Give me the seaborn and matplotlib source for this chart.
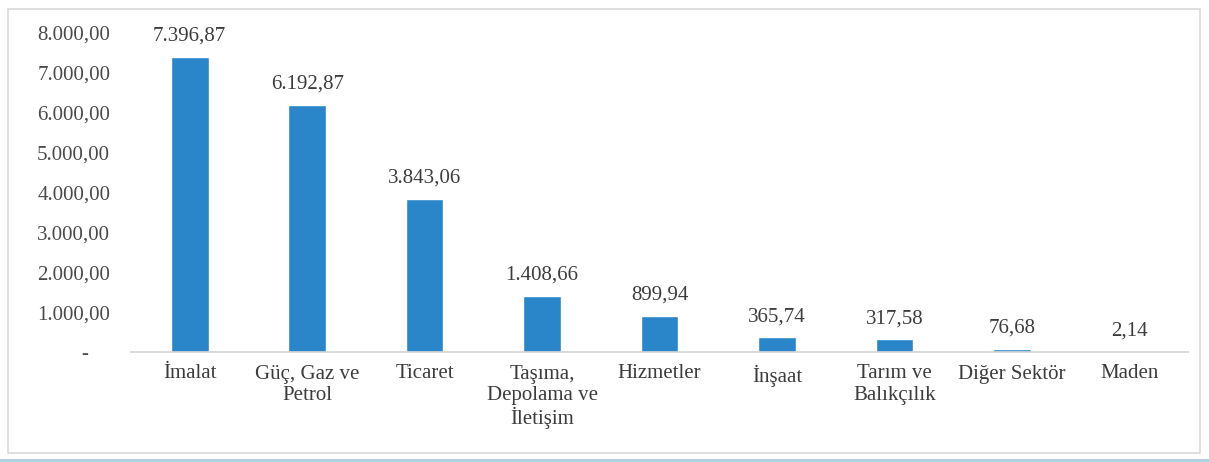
import numpy as np
import pandas as pd
import seaborn as sns
import matplotlib.pyplot as plt
from matplotlib.patches import Rectangle
from matplotlib.lines import Line2D

# Sector data
sectors = ["İmalat", "Güç, Gaz ve\nPetrol", "Ticaret", "Taşıma,\nDepolama ve\nİletişim",
           "Hizmetler", "İnşaat", "Tarım ve\nBalıkçılık", "Diğer Sektör", "Maden"]
values = [7396.87, 6192.87, 3843.06, 1408.66, 899.94, 365.74, 317.58, 76.68, 2.14]
yticks = [0, 1000, 2000, 3000, 4000, 5000, 6000, 7000, 8000]


def tr_fmt(v):
    # Turkish number format: 7.396,87
    s = f"{v:,.2f}"
    return s.replace(",", "X").replace(".", ",").replace("X", ".")


df = pd.DataFrame({"sector": sectors, "value": values})

sns.set_style("white")
plt.rcParams['font.family'] = ['Liberation Serif', 'DejaVu Serif']

fig = plt.figure(figsize=(12.09, 4.62), dpi=100)
ax = fig.add_axes([131 / 1209, 1 - 352 / 462, 1057 / 1209, 319 / 462])

sns.barplot(data=df, x="sector", y="value", color="#2a86c9", width=0.32,
            saturation=1, ax=ax)

txt = "#3c3c3c"
for i, v in enumerate(values):
    ax.annotate(tr_fmt(v), (i, v), xytext=(0, 8), textcoords="offset points",
                ha="center", va="bottom", fontsize=15, color=txt)

ax.set_ylim(0, 8000)
ax.set_xlim(-0.5, len(sectors) - 0.5)
ax.set_yticks(yticks)
ax.set_yticklabels(["-    "] + [tr_fmt(t) for t in yticks[1:]], fontsize=15, color="#4a4a4a")
ax.tick_params(axis="y", length=0, pad=15)
ax.tick_params(axis="x", length=0, pad=9, labelsize=15, labelcolor=txt)
for lab in ax.get_xticklabels():
    lab.set_linespacing(1.15)
ax.set_xlabel("")
ax.set_ylabel("")

for s in ["top", "right", "left"]:
    ax.spines[s].set_visible(False)
ax.spines["bottom"].set_color("#d4d4d4")
ax.spines["bottom"].set_linewidth(1.2)

# chart frame
fig.patches.append(Rectangle((8 / 1209, 9 / 462), 1192 / 1209, 444 / 462,
                             transform=fig.transFigure, fill=False,
                             edgecolor="#d9d9d9", linewidth=1.2))
# light blue page line under the frame
fig.lines.append(Line2D([0, 1], [2 / 462, 2 / 462], transform=fig.transFigure,
                        color="#a9cde3", linewidth=2))

fig.savefig("out.png", dpi=100)
